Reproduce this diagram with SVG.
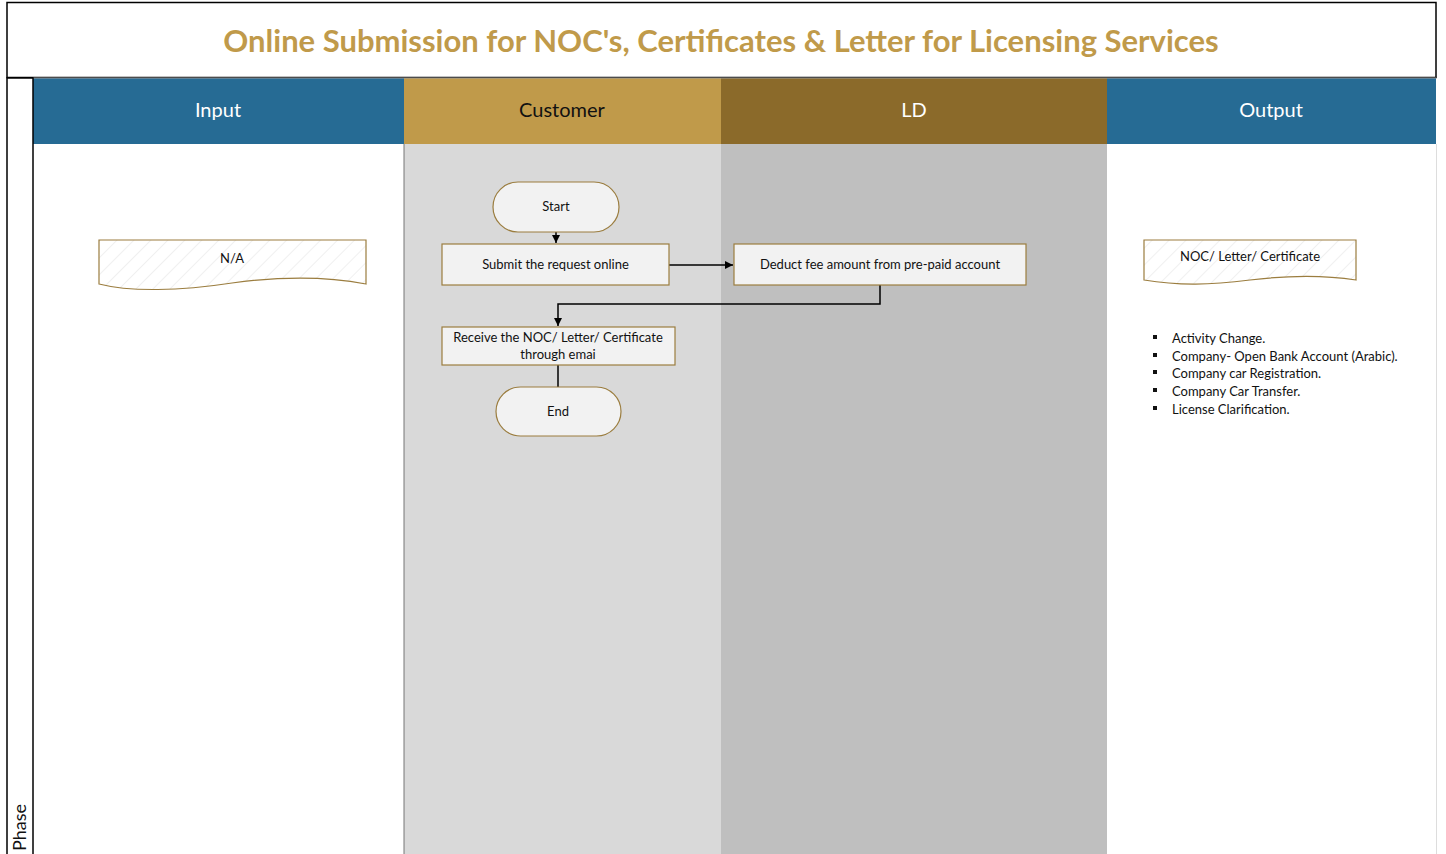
<svg xmlns="http://www.w3.org/2000/svg" width="1446" height="854" viewBox="0 0 1446 854">
<defs>
<pattern id="hatch" patternUnits="userSpaceOnUse" width="12" height="12" patternTransform="rotate(45)">
<rect width="12" height="12" fill="#ffffff"/>
<line x1="0" y1="0" x2="0" y2="12" stroke="#ececec" stroke-width="1.5"/>
</pattern>
<marker id="arr" markerWidth="10" markerHeight="10" refX="9" refY="5" orient="auto" markerUnits="userSpaceOnUse">
<path d="M1,1 L9,5 L1,9 Z" fill="#000"/>
</marker>
<style>
.lbl{font-family:"Lato","Open Sans","Liberation Sans",sans-serif;font-size:13px;fill:#111;text-anchor:middle}
.hdr{font-family:"Lato","Open Sans","Liberation Sans",sans-serif;font-size:20px;text-anchor:middle}
.box{fill:#f2f2f2;stroke:#9b7d3f;stroke-width:1.2}
.doc{fill:url(#hatch);stroke:#9b7d3f;stroke-width:1.2}
.con{fill:none;stroke:#000;stroke-width:1.5}
</style>
</defs>
<rect width="1446" height="854" fill="#ffffff"/>
<!-- title -->
<rect x="7" y="2.5" width="1429" height="75" fill="#fff" stroke="#000" stroke-width="1.5"/>
<text x="721" y="52" style="font-family:'Lato','Open Sans','Liberation Sans',sans-serif;font-size:31px;font-weight:bold;fill:#c09a4a;text-anchor:middle">Online Submission for NOC's, Certificates &amp; Letter for Licensing Services</text>
<!-- lanes body -->
<rect x="33" y="144" width="371" height="710" fill="#ffffff"/>
<rect x="404" y="144" width="317" height="710" fill="#d9d9d9"/>
<rect x="721" y="144" width="386" height="710" fill="#bfbfbf"/>
<rect x="1107" y="144" width="329" height="710" fill="#ffffff"/>
<line x1="404" y1="144" x2="404" y2="854" stroke="#777" stroke-width="1"/>
<line x1="1436.5" y1="144" x2="1436.5" y2="854" stroke="#ddd" stroke-width="1"/>
<!-- headers -->
<rect x="33" y="78" width="371" height="66" fill="#266b94"/>
<rect x="404" y="78" width="317" height="66" fill="#c09a4a"/>
<rect x="721" y="78" width="386" height="66" fill="#8b6a2a"/>
<rect x="1107" y="78" width="329" height="66" fill="#266b94"/>
<line x1="33" y1="78" x2="1436" y2="78" stroke="#999" stroke-width="1"/>
<text class="hdr" x="218" y="117" fill="#ffffff">Input</text>
<text class="hdr" x="562" y="117" fill="#111111">Customer</text>
<text class="hdr" x="914" y="117" fill="#ffffff">LD</text>
<text class="hdr" x="1271" y="117" fill="#ffffff">Output</text>
<!-- phase column -->
<rect x="7" y="78" width="26" height="780" fill="#fff" stroke="#000" stroke-width="1.5"/>
<text transform="translate(26,851) rotate(-90)" style="font-family:'Lato','Open Sans','Liberation Sans',sans-serif;font-size:18px;fill:#111">Phase</text>
<!-- connectors -->
<g id="connectors">
<path class="con" d="M556,232 V243" marker-end="url(#arr)"/>
<path class="con" d="M669,265 H733" marker-end="url(#arr)"/>
<path class="con" d="M880,285 V304 H558 V326" marker-end="url(#arr)"/>
<path class="con" d="M558,365 V387"/>
</g>
<!-- nodes -->
<g id="input-na">
<path class="doc" d="M99,240 H366 V284 C330,277 290,275 232,283 C180,291 130,292 99,284 Z"/>
<text class="lbl" x="232" y="263">N/A</text>
</g>
<g id="start">
<rect class="box" x="493" y="182" width="126" height="50" rx="25"/>
<text class="lbl" x="556" y="211">Start</text>
</g>
<g id="submit">
<rect class="box" x="442" y="244" width="227" height="41"/>
<text class="lbl" x="555.5" y="269">Submit the request online</text>
</g>
<g id="deduct">
<rect class="box" x="734" y="244" width="292" height="41"/>
<text class="lbl" x="880" y="269">Deduct fee amount from pre-paid account</text>
</g>
<g id="receive">
<rect class="box" x="442" y="327" width="233" height="38"/>
<text class="lbl" x="558" y="342">Receive the NOC/ Letter/ Certificate</text>
<text class="lbl" x="558" y="359">through emai</text>
</g>
<g id="end">
<rect class="box" x="496" y="387" width="125" height="49" rx="24.5"/>
<text class="lbl" x="558" y="416">End</text>
</g>
<g id="output-doc">
<path class="doc" d="M1144,240 H1356 V280 C1330,276 1300,274 1250,280 C1210,285 1180,286 1144,280 Z"/>
<text class="lbl" x="1250" y="261">NOC/ Letter/ Certificate</text>
</g>
<g id="output-list" style="font-family:'Lato','Open Sans','Liberation Sans',sans-serif;font-size:13px;fill:#111">
<rect x="1153" y="335" width="4" height="4" fill="#111"/>
<rect x="1153" y="353" width="4" height="4" fill="#111"/>
<rect x="1153" y="370" width="4" height="4" fill="#111"/>
<rect x="1153" y="388" width="4" height="4" fill="#111"/>
<rect x="1153" y="406" width="4" height="4" fill="#111"/>
<text x="1172" y="343">Activity Change.</text>
<text x="1172" y="361">Company- Open Bank Account (Arabic).</text>
<text x="1172" y="378">Company car Registration.</text>
<text x="1172" y="396">Company Car Transfer.</text>
<text x="1172" y="414">License Clarification.</text>
</g>
</svg>
